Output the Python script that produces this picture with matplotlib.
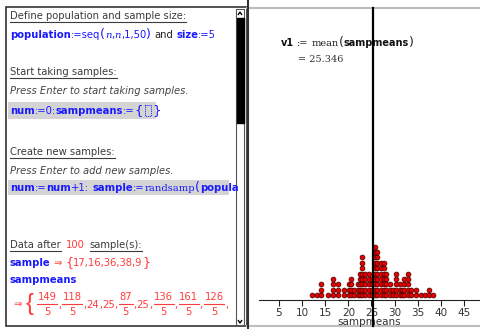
import numpy as np
import matplotlib
matplotlib.use('Agg')
from matplotlib import pyplot as plt
from matplotlib import transforms
from matplotlib.patches import Rectangle, Polygon

# dot plot of the sample means: column value and how many dots are stacked there
col_value = [12.1, 13.2, 14.1, 15.7, 16.6, 17.8, 19.1, 20.1, 20.6, 21.3, 22.1, 22.5,
             23.05, 23.7, 24.4, 25.15, 25.7, 26.2, 27.0, 27.7, 28.2, 28.9, 29.65, 30.4,
             31.1, 31.7, 32.1, 32.8, 33.6, 34.6, 35.65, 36.6, 37.5, 38.3]
col_count = [1, 1, 3, 1, 4, 3, 2, 3, 4, 2, 3, 5,
             8, 5, 5, 4, 10, 9, 7, 7, 5, 3, 2, 5,
             3, 2, 4, 5, 2, 2, 1, 1, 2, 1]
mean_value = 25.346
xticks = [5, 10, 15, 20, 25, 30, 35, 40, 45]

n_samples = 100
sample = [17, 16, 36, 38, 9]
# first sample means shown in the notes (numerator, denominator) ; den 1 = integer
means_num = [149, 118, 24, 25, 87, 25, 136, 161, 126]
means_den = [5, 5, 1, 1, 5, 1, 5, 5, 5]

BLUE = '#1a1aff'
RED = '#ff3b3b'
GREY = '#3c3c3c'
FS = 7.2

fig = plt.figure(figsize=(4.8, 3.29), dpi=100)
bg = fig.add_axes([0, 0, 1, 1])
bg.set_xlim(0, 480)
bg.set_ylim(329, 0)
bg.axis('off')
renderer = fig.canvas.get_renderer()


def chain(x, y, pieces):
    # put text pieces one after the other on the same baseline
    for txt, kw in pieces:
        if txt == ' ':
            x += 3
            continue
        opts = dict(fontsize=FS, family='DejaVu Sans', color=GREY)
        opts.update(kw)
        t = bg.text(x, y, txt, va='baseline', ha='left', **opts)
        x += t.get_window_extent(renderer).width
    return x


def underline(x0, x1, y):
    bg.plot([x0, x1], [y + 2.5, y + 2.5], color=GREY, lw=0.8)


B = dict(color=BLUE, weight='bold')
Bn = dict(color=BLUE)
Bs = dict(color=BLUE, family='DejaVu Serif')
R = dict(color=RED)
IT = dict(style='italic', color='#444444')

# ---------------- left panel (notes) ----------------
bg.add_patch(Rectangle((6, 7), 241, 319, fill=False, ec='#333333', lw=1.2))
# scrollbar
bg.add_patch(Rectangle((236, 9), 8, 316, fc='white', ec='#555555', lw=0.8))
bg.add_patch(Rectangle((236.5, 18), 7, 105, fc='black', ec='black'))
bg.add_patch(Polygon([[238, 15], [240, 12], [242, 15]], closed=False, fill=False, ec='black', lw=1))
bg.add_patch(Polygon([[238, 320], [240, 323], [242, 320]], closed=False, fill=False, ec='black', lw=1))

x1 = chain(10, 19, [('Define population and sample size:', {})])
underline(10, x1, 19)
chain(10, 38, [('population', B), (':=seq', Bn), ('(', dict(color=BLUE, fontsize=9)),
               ('n', dict(color=BLUE, family='DejaVu Serif', style='italic')), (',', Bn),
               ('n', dict(color=BLUE, family='DejaVu Serif', style='italic')), (',1,50', Bn),
               (')', dict(color=BLUE, fontsize=9)), (' ', {}), ('and', dict(color='#222222')),
               (' ', {}), ('size', B), (':=5', Bn)])

x1 = chain(10, 75, [('Start taking samples:', {})])
underline(10, x1, 75)
chain(10, 94, [('Press Enter to start taking samples.', IT)])
bg.add_patch(Rectangle((8, 102), 148, 17, fc='#d4d4d4', ec='none'))
xe = chain(10, 114, [('num', B), (':=0:', Bn), ('sampmeans', B), (':=', Bn),
                     ('{', dict(color=BLUE, fontsize=9.5))])
bg.add_patch(Rectangle((xe + 1.5, 104.5), 6, 11, fill=False, ec=BLUE, lw=0.7, ls=(0, (1, 1))))
chain(xe + 9, 114, [('}', dict(color=BLUE, fontsize=9.5))])

x1 = chain(10, 155, [('Create new samples:', {})])
underline(10, x1, 155)
chain(10, 174, [('Press Enter to add new samples.', IT)])
bg.add_patch(Rectangle((8, 180), 221, 15, fc='#d4d4d4', ec='none'))
chain(10, 191, [('num', B), (':=', Bn), ('num', B), ('+1:', Bn), (' ', {}), ('sample', B),
                (':=', Bn), ('randsamp', Bs), ('(', dict(color=BLUE, fontsize=9)),
                ('popula', B)])

x1 = chain(10, 248, [('Data after', {})])
underline(10, x1, 248)
x2 = chain(x1 + 5, 248, [(str(n_samples), R)])
x3 = chain(x2 + 5, 248, [('sample(s):', {})])
underline(x2 + 5, x3, 248)

chain(10, 266, [('sample', B), (' ', {}), ('\u21d2', R), (' ', {}),
                ('{', dict(color=RED, fontsize=9)),
                (','.join(str(v) for v in sample), R), ('}', dict(color=RED, fontsize=9))])
chain(10, 283, [('sampmeans', B)])

# fraction line
chain(13, 307, [('\u21d2', R)])
bg.text(26, 304, '{', fontsize=17, color=RED, va='center', ha='left',
        family='Liberation Sans')
x = 36
for num, den in zip(means_num, means_den):
    if den == 1:
        x = chain(x, 308, [(str(num), R)])
    else:
        t = bg.text(x, 0, str(num), fontsize=FS, color=RED)
        w = t.get_window_extent(renderer).width
        t.remove()
        x += 1.5
        bg.text(x + w / 2, 300, str(num), fontsize=FS, color=RED, ha='center', va='baseline')
        bg.plot([x - 0.5, x + w + 0.5], [303.5, 303.5], color=RED, lw=0.8)
        bg.text(x + w / 2, 315, str(den), fontsize=FS, color=RED, ha='center', va='baseline')
        x += w + 1.5
    x = chain(x, 308, [(',', R)])

# ---------------- right panel (graph) ----------------
bg.plot([247, 480], [8, 8], color='#bdbdbd', lw=1.5)
bg.plot([247, 480], [325.5, 325.5], color='#bdbdbd', lw=1.5)
bg.plot([247.5, 247.5], [0, 329], color='#333333', lw=1.5)

ax = fig.add_axes([259 / 480, 29 / 329, 221 / 480, 292 / 329])
ax.patch.set_alpha(0)
ax.set_xlim(0.68, 48.46)
ax.set_ylim(0, 292 / 5.4)
for s in ['top', 'right', 'left']:
    ax.spines[s].set_visible(False)
ax.spines['bottom'].set_color('#222222')
ax.spines['bottom'].set_linewidth(0.8)
ax.set_yticks([])
ax.set_xticks(xticks)
ax.tick_params(axis='x', direction='out', length=4, width=0.8, color='#222222',
               labelsize=7.5, labelcolor='#333333', pad=2)
ax.set_xlabel('sampmeans', fontsize=7.5, color='#333333', labelpad=-1)

dx, dy = [], []
for v, c in zip(col_value, col_count):
    for k in range(c):
        dx.append(v)
        dy.append(0.9 + k)
ax.scatter(dx, dy, s=12, c='#e80000', edgecolors='#500000', linewidths=0.55, zorder=3,
           clip_on=False)

trans = transforms.blended_transform_factory(ax.transData, fig.transFigure)
ax.plot([mean_value, mean_value], [1 - 8 / 329, 1 - 326 / 329], transform=trans,
        color='black', lw=1.6, clip_on=False, zorder=4)

RF = 7.0
chain(281, 46, [('v1', dict(weight='bold', color='#111111', fontsize=RF)), (' ', {}),
                (':=', dict(family='DejaVu Serif', color='#222222', fontsize=RF)),
                (' ', {}), ('mean', dict(family='DejaVu Serif', color='#222222', fontsize=RF)),
                ('(', dict(color='#222222', fontsize=9)),
                ('sampmeans', dict(weight='bold', color='#111111', fontsize=RF)),
                (')', dict(color='#222222', fontsize=9))])
chain(298, 62, [('= %.3f' % mean_value, dict(family='DejaVu Serif', color='#333333', fontsize=RF))])

fig.savefig('out.png', dpi=100)
